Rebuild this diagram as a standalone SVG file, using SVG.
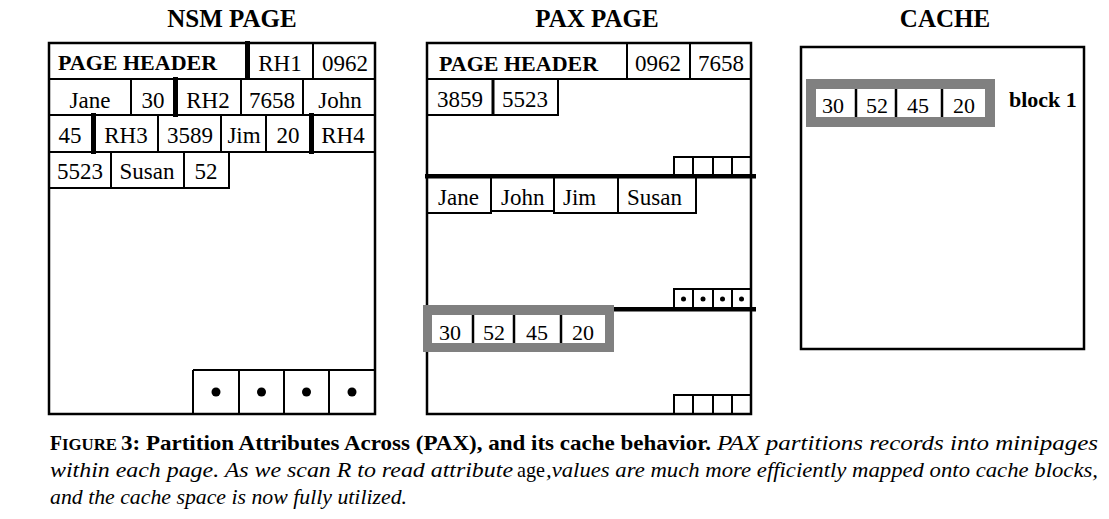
<svg xmlns="http://www.w3.org/2000/svg" width="1109" height="519" viewBox="0 0 1109 519">
<style>
.t{font-family:"Liberation Serif","Times New Roman",serif;font-size:23px;fill:#000}
.c{text-anchor:middle}
.b{font-weight:bold}
.ttl{font-family:"Liberation Serif","Times New Roman",serif;font-size:25px;font-weight:bold;text-anchor:middle}
.box{fill:#fff;stroke:#000;stroke-width:2.5}
.cell{fill:none;stroke:#000;stroke-width:2}
.bar{fill:#000}
.grey{fill:#808080}
.cap{font-family:"Liberation Serif","Times New Roman",serif;font-size:22px}
</style>
<rect width="1109" height="519" fill="#fff"/>

<g id="nsm">
<text class="ttl" x="232" y="27">NSM PAGE</text>
<rect class="box" x="49" y="43" width="326" height="371"/>
<g class="cell">
<path d="M49 79H375M49 115H375M49 152H375M49 188H229V152"/>
<path d="M313 43V79"/>
<path d="M131 79V115M241 79V115M303 79V115"/>
<path d="M158 115V152M221 115V152M266 115V152"/>
<path d="M111 152V188M184 152V188"/>
<path d="M193 370H375M193 370V414M239 370V414M284 370V414M329 370V414"/>
</g>
<rect class="bar" x="245" y="41" width="5" height="39"/>
<rect class="bar" x="173" y="77" width="5" height="40"/>
<rect class="bar" x="91" y="113" width="5" height="41"/>
<rect class="bar" x="309" y="113" width="5" height="41"/>
<text class="t b" x="58" y="70" style="font-size:22px">PAGE HEADER</text>
<text class="t c" x="280" y="71">RH1</text>
<text class="t c" x="345" y="71">0962</text>
<text class="t c" x="90" y="108">Jane</text>
<text class="t c" x="153" y="108">30</text>
<text class="t c" x="208" y="108">RH2</text>
<text class="t c" x="272" y="108">7658</text>
<text class="t c" x="340" y="108">John</text>
<text class="t c" x="70" y="143">45</text>
<text class="t c" x="126" y="143">RH3</text>
<text class="t c" x="190" y="143">3589</text>
<text class="t c" x="244" y="143">Jim</text>
<text class="t c" x="288" y="143">20</text>
<text class="t c" x="343" y="143">RH4</text>
<text class="t c" x="80" y="179">5523</text>
<text class="t c" x="147" y="179">Susan</text>
<text class="t c" x="206" y="179">52</text>
<circle cx="216" cy="392" r="4.5"/>
<circle cx="261.5" cy="392" r="4.5"/>
<circle cx="306.5" cy="392" r="4.5"/>
<circle cx="352" cy="392" r="4.5"/>
</g>

<g id="pax">
<text class="ttl" x="597" y="27">PAX PAGE</text>
<rect class="box" x="427" y="43" width="324" height="371"/>
<g class="cell">
<path d="M427 79H751M627 43V79M690 43V79"/>
<path d="M427 115H558V79"/>
<path d="M674 176V157H751M693 157V176M713 157V176M732 157V176"/>
<path d="M427 213H491V176M491 211H554M554 176V213H618V176M618 213H696V176"/>
<path d="M674 309V289H751M693 289V309M713 289V309M732 289V309"/>
<path d="M674 414V395H751M693 395V414M713 395V414M732 395V414"/>
</g>
<rect class="bar" x="491.5" y="79" width="3" height="36"/>
<rect class="bar" x="425" y="174" width="331" height="4.5"/>
<rect class="bar" x="427" y="307" width="329" height="4.5"/>
<text class="t b" x="439" y="71" style="font-size:22px">PAGE HEADER</text>
<text class="t c" x="658" y="71">0962</text>
<text class="t c" x="721" y="71">7658</text>
<text class="t c" x="460" y="107">3859</text>
<text class="t c" x="525" y="107">5523</text>
<text class="t" x="438" y="205">Jane</text>
<text class="t" x="501" y="205">John</text>
<text class="t" x="563" y="205">Jim</text>
<text class="t" x="627" y="205">Susan</text>
<circle cx="683.5" cy="299" r="2.5"/>
<circle cx="703" cy="299" r="2.5"/>
<circle cx="722.5" cy="299" r="2.5"/>
<circle cx="741.5" cy="299" r="2.5"/>
<rect class="grey" x="423" y="305" width="191" height="47"/>
<rect x="432" y="315" width="173" height="28" fill="#fff"/>
<path d="M473 315V343M514 315V343M561 315V343" stroke="#000" stroke-width="2.5"/>
<text class="t c" x="450" y="340" style="font-size:22px">30</text>
<text class="t c" x="494" y="340" style="font-size:22px">52</text>
<text class="t c" x="537" y="340" style="font-size:22px">45</text>
<text class="t c" x="583" y="340" style="font-size:22px">20</text>
</g>

<g id="cache">
<text class="ttl" x="945" y="27">CACHE</text>
<rect class="box" x="801" y="47" width="283" height="302"/>
<rect class="grey" x="806" y="79" width="189" height="48"/>
<rect x="816" y="89" width="169" height="28" fill="#fff"/>
<path d="M856 89V117M896 89V117M942 89V117" stroke="#000" stroke-width="2.5"/>
<text class="t c" x="833" y="113" style="font-size:22px">30</text>
<text class="t c" x="877" y="113" style="font-size:22px">52</text>
<text class="t c" x="918" y="113" style="font-size:22px">45</text>
<text class="t c" x="964" y="113" style="font-size:22px">20</text>
<text class="t b" x="1009" y="107" style="font-size:22px">block 1</text>
</g>

<g id="caption" class="cap">
<text x="50" y="450" font-weight="bold" textLength="12" lengthAdjust="spacingAndGlyphs">F</text>
<text x="62" y="450" font-weight="bold" font-size="16" textLength="55" lengthAdjust="spacingAndGlyphs">IGURE</text>
<text x="121" y="450" font-weight="bold" textLength="590" lengthAdjust="spacingAndGlyphs">3: Partition Attributes Across (PAX), and its cache behavior.</text>
<text x="717" y="450" font-style="italic" textLength="381" lengthAdjust="spacingAndGlyphs">PAX  partitions  records  into  minipages</text>
<text x="50" y="477" font-style="italic" textLength="463" lengthAdjust="spacingAndGlyphs">within each page. As we scan R to read attribute</text>
<text x="517" y="477" textLength="28" lengthAdjust="spacingAndGlyphs">age</text>
<text x="546" y="477" font-style="italic" textLength="552" lengthAdjust="spacingAndGlyphs">,values are much more efficiently mapped onto cache blocks,</text>
<text x="50" y="504" font-style="italic" textLength="357" lengthAdjust="spacingAndGlyphs">and the cache space is now fully utilized.</text>
</g>
</svg>
